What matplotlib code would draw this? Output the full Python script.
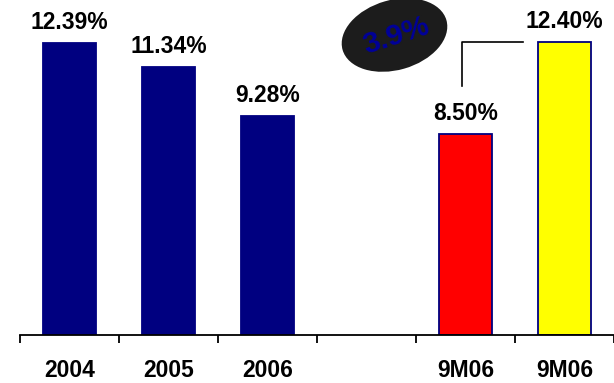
import matplotlib
matplotlib.use("Agg")
import matplotlib.pyplot as plt
from matplotlib.patches import Ellipse

plt.rcParams['font.family'] = ['Liberation Sans', 'DejaVu Sans']

# Data
categories = ['2004', '2005', '2006', '', '9M06', '9M06']
values = [12.39, 11.34, 9.28, None, 8.50, 12.40]
value_labels = ['12.39%', '11.34%', '9.28%', '', '8.50%', '12.40%']
bar_colors = ['#000080', '#000080', '#000080', None, '#ff0000', '#ffff00']
edge_colors = ['#000080', '#000080', '#000080', None, '#000080', '#000080']
growth_label = '3.9%'

fig = plt.figure(figsize=(6.14, 3.83), dpi=100)
ax = fig.add_axes([20 / 614, 48 / 383, 594 / 614, 335 / 383])

for i, v in enumerate(values):
    if v is None:
        continue
    ax.bar(i, v, width=0.54, color=bar_colors[i], edgecolor=edge_colors[i],
           linewidth=1.3, zorder=2)
    ax.annotate(value_labels[i], xy=(i, v), xytext=(0, 6.5), textcoords='offset points',
                ha='center', va='bottom', fontsize=16.5, fontweight='bold', color='black')

ax.set_xlim(-0.5, 5.5)
ax.set_ylim(0, 14.2)

for side in ['top', 'right', 'left']:
    ax.spines[side].set_visible(False)
ax.spines['bottom'].set_linewidth(1.3)
ax.set_yticks([])

# Boundary ticks (major) and centred labels (minor)
n = len(categories)
ax.set_xticks([i - 0.5 for i in range(n + 1)])
ax.set_xticklabels([])
ax.tick_params(axis='x', which='major', direction='out', length=6, width=1.3)
ax.set_xticks(range(n), minor=True)
ax.set_xticklabels(categories, minor=True, fontsize=16.5, fontweight='bold')
ax.tick_params(axis='x', which='minor', length=0, pad=17)

# Elbow connector from the 9M06 actual bar to the 9M06 target level
x_red, x_yel = 4, 5
ax.plot([x_red - 0.04, x_red - 0.04, x_yel - 0.42],
        [values[x_red] + 2.05, values[x_yel], values[x_yel]],
        color='black', linewidth=1.2, clip_on=False, zorder=3)

# Growth bubble
ell = Ellipse((3.945, 3.83 - 0.35), width=1.08, height=0.70, angle=16,
              transform=fig.dpi_scale_trans, facecolor='#1c1c1c', edgecolor='none')
fig.patches.append(ell)
fig.text(3.96 / 6.14, (3.83 - 0.36) / 3.83, growth_label, rotation=18,
         ha='center', va='center', fontsize=21.5, fontweight='bold', color='#000099')

fig.savefig('out.png', dpi=100)
